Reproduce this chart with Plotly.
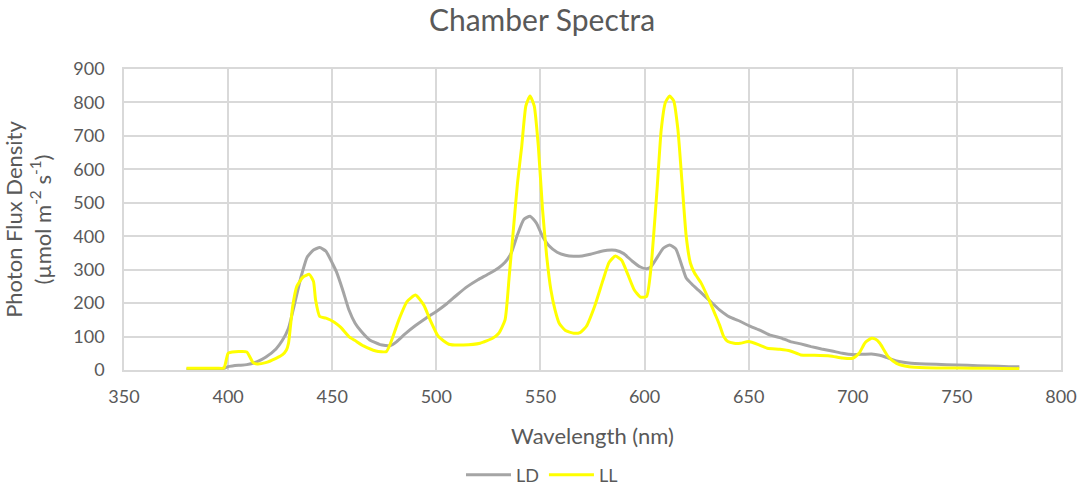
import plotly.graph_objects as go

# Wavelength (nm) and photon flux density values
wavelength_ld = [380, 385, 390, 395, 398, 400, 402, 405, 409, 414, 418, 423, 426, 429, 432, 435, 438,
                 441, 444, 447, 450, 452, 455, 458, 461, 464, 468, 473, 478, 481, 485, 490, 495, 500,
                 505, 510, 515, 520, 525, 530, 533, 536, 539, 542, 545, 548, 551, 554, 558, 562, 566,
                 570, 574, 578, 582, 586, 590, 594, 598, 601, 603, 606, 609, 612, 615, 618, 620, 623,
                 626, 631, 636, 641, 645, 650, 655, 660, 665, 670, 675, 680, 685, 690, 695, 700, 705,
                 709, 713, 716, 721, 727, 735, 745, 755, 765, 775, 780]
flux_ld = [2, 2, 2, 3, 5, 10, 12, 14, 16, 25, 38, 63, 88, 125, 200, 278, 338,
           359, 366, 355, 320, 294, 240, 180, 140, 115, 90, 76, 73, 85, 108, 133, 155, 175,
           198, 225, 250, 270, 287, 306, 322, 350, 405, 450, 460, 440, 400, 372, 352, 343, 340,
           341, 346, 353, 358, 358, 348, 326, 308, 303, 308, 336, 364, 374, 362, 310, 275, 255,
           238, 209, 180, 158, 148, 133, 120, 105, 97, 85, 78, 70, 63, 57, 50, 46, 47,
           48, 44, 38, 27, 21, 18, 16, 14, 12, 10, 10]

wavelength_ll = [380, 385, 390, 395, 398, 400, 402, 405, 409, 412, 414, 418, 423, 426, 428, 429, 431,
                 433, 436, 439, 441, 442, 444, 447, 451, 454, 458, 461, 465, 471, 476, 478, 482, 486,
                 490, 494, 497, 501, 506, 513, 521, 527, 530, 533, 535, 537, 539, 541, 543, 545, 547,
                 549, 551, 553, 555, 557, 559, 562, 566, 569, 572, 576, 580, 583, 586, 589, 592, 595,
                 598, 601, 603, 606, 608, 610, 612, 614, 616, 618, 620, 622, 624, 627, 631, 634, 636,
                 638, 640, 643, 646, 650, 655, 659, 665, 670, 675, 680, 689, 695, 700, 703, 706, 709,
                 711, 713, 717, 721, 727, 735, 750, 765, 780]
flux_ll = [5, 5, 5, 5, 6, 50, 54, 55, 54, 22, 18, 22, 35, 45, 60, 80, 190,
           250, 278, 286, 265, 210, 160, 155, 143, 128, 100, 88, 72, 57, 55, 80, 150, 205,
           224, 194, 150, 100, 77, 75, 80, 95, 110, 150, 280, 420, 560, 668, 790, 819, 790,
           668, 480, 340, 240, 180, 140, 118, 110, 112, 130, 190, 268, 322, 341, 328, 285, 240,
           218, 220, 300, 540, 718, 800, 819, 805, 720, 560, 400, 320, 290, 262, 209, 165, 135,
           100, 85, 80, 80, 85, 75, 65, 62, 57, 45, 44, 42, 36, 35, 50, 82, 95,
           92, 80, 40, 20, 10, 7, 6, 5, 4]

series_names = ["LD", "LL"]
x_ticks = [350, 400, 450, 500, 550, 600, 650, 700, 750, 800]
y_ticks = [0, 100, 200, 300, 400, 500, 600, 700, 800, 900]

FONT = "Lato, 'Open Sans', sans-serif"
TXT = "#595959"
GRID = "#D9D9D9"

fig = go.Figure()
fig.add_trace(go.Scatter(x=wavelength_ld, y=flux_ld, name=series_names[0], mode="lines",
                         line=dict(color="#A5A5A5", width=3, shape="spline", smoothing=0.5)))
fig.add_trace(go.Scatter(x=wavelength_ll, y=flux_ll, name=series_names[1], mode="lines",
                         line=dict(color="#FFFF00", width=3, shape="spline", smoothing=0.5)))

fig.update_layout(
    width=1084, height=488,
    margin=dict(l=124, r=23, t=69, b=118, autoexpand=False),
    paper_bgcolor="white", plot_bgcolor="white",
    font=dict(family=FONT, color=TXT, size=18),
    title=dict(text="Chamber Spectra", x=0.5, xref="container", xanchor="center",
               y=1 - 20 / 488, yref="container", yanchor="middle",
               font=dict(family=FONT, size=30, color=TXT)),
    legend=dict(orientation="h", x=0.5, xref="container", xanchor="center",
                y=1 - 475 / 488, yref="container", yanchor="middle",
                font=dict(family=FONT, size=18, color=TXT), itemwidth=45),
    showlegend=True,
)
fig.update_xaxes(range=[350, 800], tickvals=x_ticks, showgrid=True, gridcolor=GRID, gridwidth=1.5,
                 showline=True, linecolor=GRID, linewidth=1.5, mirror=True, zeroline=False,
                 ticks="", ticklabelstandoff=10, tickfont=dict(size=18, color=TXT),
                 title=dict(text="Wavelength (nm)", font=dict(size=22, color=TXT), standoff=22))
fig.update_yaxes(range=[0, 900], tickvals=y_ticks, showgrid=True, gridcolor=GRID, gridwidth=1.5,
                 showline=True, linecolor=GRID, linewidth=1.5, mirror=True, zeroline=False,
                 ticks="", ticklabelstandoff=14, tickfont=dict(size=18, color=TXT),
                 title=dict(text="Photon Flux Density<br>(µmol m<sup>-2</sup> s<sup>-1</sup>)",
                            font=dict(size=22, color=TXT), standoff=40))

fig.write_html("out.html", config={"displayModeBar": False},
               post_script="document.body.style.margin='0px';")
